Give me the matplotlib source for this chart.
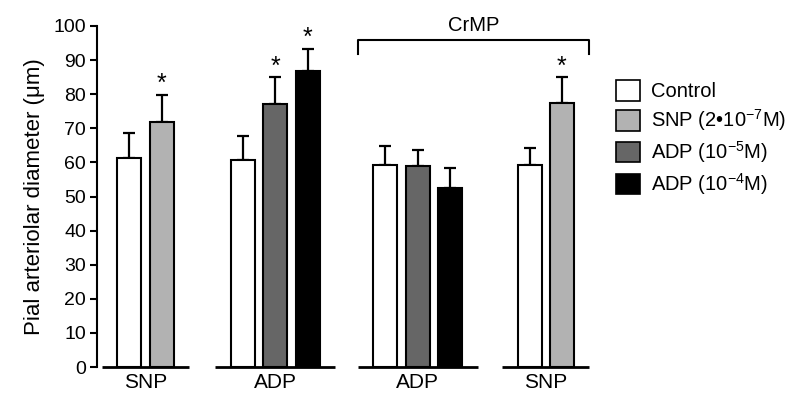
import numpy as np
import matplotlib
matplotlib.use("Agg")
import matplotlib.pyplot as plt
from matplotlib.patches import Patch

plt.rcParams['font.family'] = ['Liberation Sans', 'DejaVu Sans']
plt.rcParams['mathtext.fontset'] = 'custom'
plt.rcParams['mathtext.rm'] = 'Liberation Sans'
plt.rcParams['mathtext.it'] = 'Liberation Sans'

# data
group_labels = ['SNP', 'ADP', 'ADP', 'SNP']
group_starts = [1.0, 4.5, 8.9, 13.35]   # x of first bar in each group (bar step = 1)
group_series = [[0, 1], [0, 2, 3], [0, 2, 3], [0, 1]]
means = [[61.4, 71.8], [60.6, 77.0, 86.8], [59.2, 58.8, 52.5], [59.2, 77.3]]
errs = [[7.2, 7.9], [7.1, 7.9, 6.4], [5.6, 4.8, 6.0], [5.0, 7.6]]
stars = [[False, True], [False, True, True], [False, False, False], [False, True]]

series_names = ['Control', 'SNP (2•10$^{-7}$M)', 'ADP (10$^{-5}$M)', 'ADP (10$^{-4}$M)']
series_colors = ['white', '#b2b2b2', '#666666', 'black']

fig = plt.figure(figsize=(8, 4.04), dpi=100)
ax = fig.add_axes([97 / 800, 37 / 404, 503 / 800, 341 / 404])
bar_w = 0.74

for g in range(len(group_labels)):
    xs = group_starts[g] + np.arange(len(means[g]))
    for i, x in enumerate(xs):
        s = group_series[g][i]
        ax.bar(x, means[g][i], width=bar_w, color=series_colors[s],
               edgecolor='black', linewidth=1.5, zorder=2)
        ax.errorbar(x, means[g][i], yerr=[[0], [errs[g][i]]], color='black',
                    elinewidth=1.6, capsize=4, capthick=1.6, zorder=1)
        if stars[g][i]:
            ax.text(x, means[g][i] + errs[g][i] - 0.3, '*', ha='center', va='bottom',
                    fontsize=18)
    # broken baseline per group
    ax.plot([xs[0] - 0.85, xs[-1] + 0.85], [0, 0], color='black', lw=2,
            clip_on=False, solid_capstyle='butt')

centers = [group_starts[g] + (len(means[g]) - 1) / 2 for g in range(len(group_labels))]
ax.set_xticks(centers)
ax.set_xticklabels(group_labels, fontsize=15)
ax.tick_params(axis='x', length=0, pad=4)

# CrMP bracket
bx0 = group_starts[2] - 0.85
bx1 = group_starts[3] + len(means[3]) - 1 + 0.85
ax.plot([bx0, bx0, bx1, bx1], [91.7, 96.0, 96.0, 91.7], color='black', lw=1.5,
        clip_on=False)
ax.text((bx0 + bx1) / 2, 97.3, 'CrMP', ha='center', va='bottom', fontsize=14.5)

ax.set_xlim(0, 503 / 32.4)
ax.set_ylim(0, 100)
ax.set_yticks(np.arange(0, 101, 10))
ax.tick_params(axis='y', labelsize=14, width=1.5, length=5, pad=3)
for sp in ['top', 'right', 'bottom']:
    ax.spines[sp].set_visible(False)
ax.spines['left'].set_linewidth(1.5)
ax.set_ylabel('Pial arteriolar diameter (μm)', fontsize=16, labelpad=6)

handles = [Patch(facecolor=c, edgecolor='black', linewidth=1.2) for c in series_colors]
fig.legend(handles, series_names, loc='upper left', bbox_to_anchor=(598 / 800, 1 - 62 / 404),
           frameon=False, fontsize=14.5, handlelength=1.2, handleheight=1.2,
           handletextpad=0.55, labelspacing=0.3)

fig.savefig('out.png', dpi=100)
